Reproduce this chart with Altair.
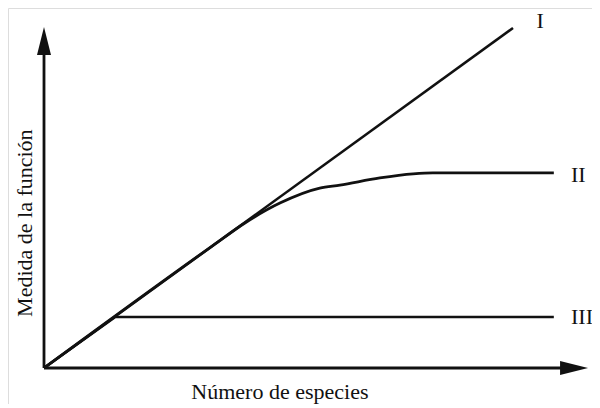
import altair as alt
import pandas as pd

# ---- data (abstract units: species count vs. function measure) ----
line_I_x = [0.0, 10.0]
line_I_y = [0.0, 10.0]

line_II_x = [0.0, 3.6, 4.3, 5.03, 5.88, 6.31, 7.16, 7.87, 8.29, 10.87]
line_II_y = [0.0, 3.6, 4.28, 4.85, 5.29, 5.38, 5.59, 5.71, 5.74, 5.74]

line_III_x = [0.0, 1.52, 10.87]
line_III_y = [0.0, 1.5, 1.5]

series_labels = ["I", "II", "III"]
label_x = [10.58, 11.39, 11.47]
label_y = [10.0, 5.47, 1.29]

x_title = "Número de especies"
y_title = "Medida de la función"

x_axis_end = 11.6
y_axis_end = 10.03

# ---- tables ----
def table(name, xs_, ys_):
    return pd.DataFrame({"serie": name, "x": xs_, "y": ys_, "o": list(range(len(xs_)))})

straight_df = pd.concat([table("I", line_I_x, line_I_y), table("III", line_III_x, line_III_y)])
curve_df = table("II", line_II_x, line_II_y)

axes_df = pd.DataFrame({
    "x": [0.0, 0.0], "y": [0.0, 0.0],
    "x2": [0.0, x_axis_end - 0.3], "y2": [y_axis_end - 0.3, 0.0],
})
up_df = pd.DataFrame({"x": [0.0], "y": [y_axis_end]})
right_df = pd.DataFrame({"x": [x_axis_end], "y": [0.0]})
lab_df = pd.DataFrame({"t": series_labels, "x": label_x, "y": label_y})
xt_df = pd.DataFrame({"t": [x_title], "x": [5.03], "y": [-0.91]})
yt_df = pd.DataFrame({"t": [y_title], "x": [-0.256], "y": [4.26]})

W, H = 584, 396
xs = alt.Scale(domain=[-0.7676, 11.684], nice=False, zero=False)
ys = alt.Scale(domain=[-1.059, 10.588], nice=False, zero=False)
X = lambda f="x": alt.X(f"{f}:Q", scale=xs, axis=None)
Y = lambda f="y": alt.Y(f"{f}:Q", scale=ys, axis=None)

ink = "#111111"
font = "Liberation Serif"

axes = alt.Chart(axes_df).mark_rule(color=ink, strokeWidth=2.8).encode(
    x=X(), y=Y(), x2="x2:Q", y2="y2:Q")

up = alt.Chart(up_df).mark_point(
    shape="M0,0L0.5,2L-0.5,2Z", size=784, filled=True, color=ink, opacity=1, strokeWidth=0
).encode(x=X(), y=Y())
right = alt.Chart(right_df).mark_point(
    shape="M0,0L-2,-0.5L-2,0.5Z", size=784, filled=True, color=ink, opacity=1, strokeWidth=0
).encode(x=X(), y=Y())

straight = alt.Chart(straight_df).mark_line(color=ink, strokeWidth=2.6).encode(
    x=X(), y=Y(), detail="serie:N", order="o:Q")
curve = alt.Chart(curve_df).mark_line(color=ink, strokeWidth=2.8, interpolate="monotone").encode(
    x=X(), y=Y(), order="o:Q")

labels = alt.Chart(lab_df).mark_text(
    font=font, fontSize=22, color=ink, align="center", baseline="alphabetic"
).encode(x=X(), y=Y(), text="t:N")

xt = alt.Chart(xt_df).mark_text(
    font=font, fontSize=22, color=ink, align="center", baseline="alphabetic"
).encode(x=X(), y=Y(), text="t:N")

yt = alt.Chart(yt_df).mark_text(
    font=font, fontSize=22, color=ink, align="center", baseline="alphabetic", angle=270
).encode(x=X(), y=Y(), text="t:N")

chart = alt.layer(axes, straight, curve, up, right, labels, xt, yt).properties(
    width=W, height=H, autosize=alt.AutoSizeParams(type="none"), padding=0
).configure_view(stroke=None).configure(background="white")

chart.save("out.html", embed_options={"renderer": "svg", "actions": False})
